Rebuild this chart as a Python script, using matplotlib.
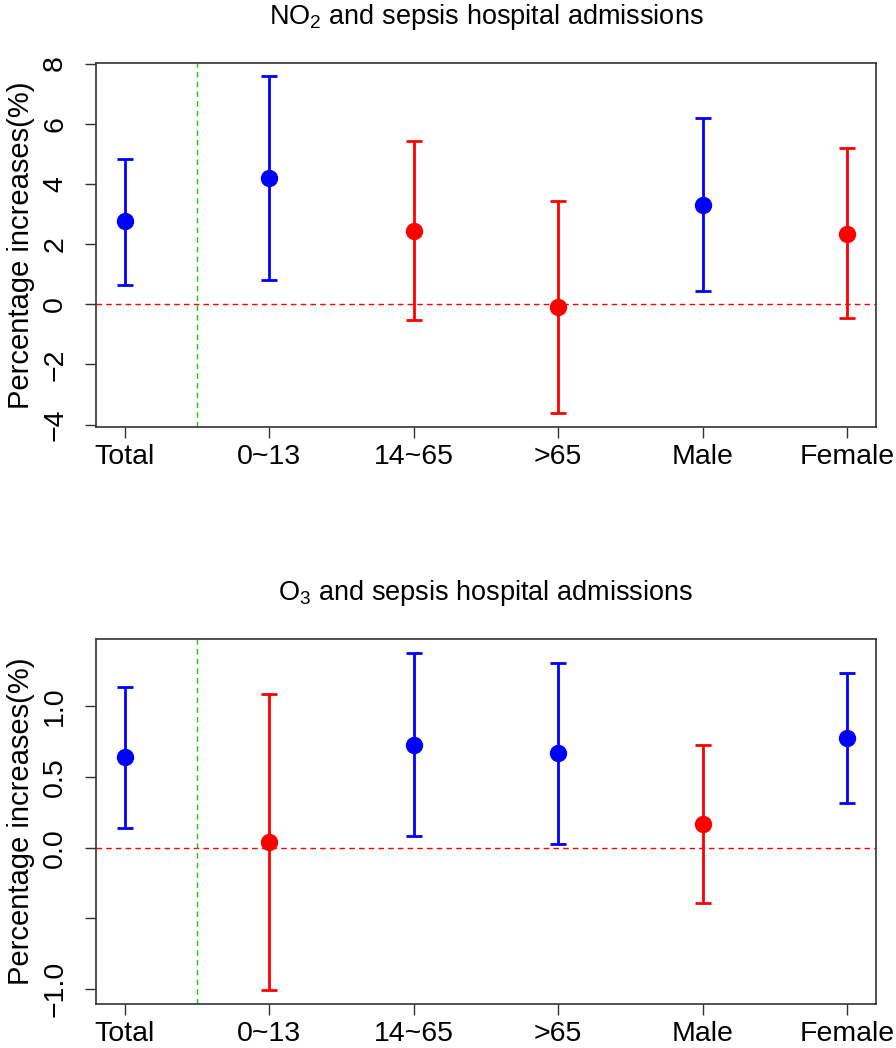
import matplotlib
matplotlib.use("Agg")
import matplotlib.pyplot as plt

plt.rcParams['font.family'] = ['Liberation Sans', 'DejaVu Sans']
plt.rcParams['mathtext.fontset'] = 'custom'
plt.rcParams['mathtext.rm'] = 'Liberation Sans'
plt.rcParams['mathtext.it'] = 'Liberation Sans:italic'

groups = ['Total', '0~13', '14~65', '>65', 'Male', 'Female']

# NO2 estimates and 95% CI
no2_est = [2.75, 4.19, 2.43, -0.09, 3.31, 2.35]
no2_low = [0.65, 0.80, -0.53, -3.63, 0.45, -0.46]
no2_high = [4.83, 7.57, 5.44, 3.44, 6.18, 5.18]

# O3 estimates and 95% CI
o3_est = [0.64, 0.04, 0.73, 0.67, 0.17, 0.78]
o3_low = [0.14, -1.01, 0.08, 0.03, -0.39, 0.32]
o3_high = [1.14, 1.09, 1.38, 1.31, 0.73, 1.24]

no2_ticks = [-4, -2, 0, 2, 4, 6, 8]
no2_ticklabels = ['\u22124', '\u22122', '0', '2', '4', '6', '8']
o3_ticks = [-1.0, -0.5, 0.0, 0.5, 1.0]
o3_ticklabels = ['\u22121.0', '', '0.0', '0.5', '1.0']


def panel(ax, est, low, high, title, ticks, ticklabels):
	x = list(range(1, len(groups) + 1))
	for xi, e, lo, hi in zip(x, est, low, high):
		col = 'blue' if (lo > 0 or hi < 0) else 'red'
		ax.errorbar([xi], [e], yerr=[[e - lo], [hi - e]], fmt='o', color=col,
			markersize=11.5, elinewidth=2, capsize=5.5, capthick=2)
	ax.axhline(0, color='red', linestyle=(0, (4, 3)), linewidth=1)
	ax.axvline(1.5, color='#11CC11', linestyle=(0, (4, 3)), linewidth=1)

	lo_all = min(low)
	hi_all = max(high)
	r = hi_all - lo_all
	ax.set_ylim(lo_all - 0.04 * r, hi_all + 0.04 * r)
	ax.set_xlim(0.8, len(groups) + 0.2)

	ax.set_xticks(x)
	ax.set_xticklabels(groups, fontsize=20.5)
	ax.set_yticks(ticks)
	ax.set_yticklabels(ticklabels, fontsize=20.5, rotation=90, va='center')
	ax.tick_params(axis='both', direction='out', length=8, width=1, color='#333333')
	ax.tick_params(axis='y', pad=12)
	ax.tick_params(axis='x', pad=4)
	for s in ax.spines.values():
		s.set_color('#333333')
		s.set_linewidth(1.2)
	ax.set_ylabel('Percentage increases(%)', fontsize=21, labelpad=5)
	ax.set_title(title, fontsize=19.5, pad=28)


fig = plt.figure(figsize=(8.96, 10.48), dpi=100)
ax1 = fig.add_axes([0.1071, 0.5926, 0.8706, 0.3473])
ax2 = fig.add_axes([0.1071, 0.0420, 0.8706, 0.3480])

panel(ax1, no2_est, no2_low, no2_high, r'NO$_2$ and sepsis hospital admissions', no2_ticks, no2_ticklabels)
panel(ax2, o3_est, o3_low, o3_high, r'O$_3$ and sepsis hospital admissions', o3_ticks, o3_ticklabels)

fig.savefig('out.png', dpi=100)
